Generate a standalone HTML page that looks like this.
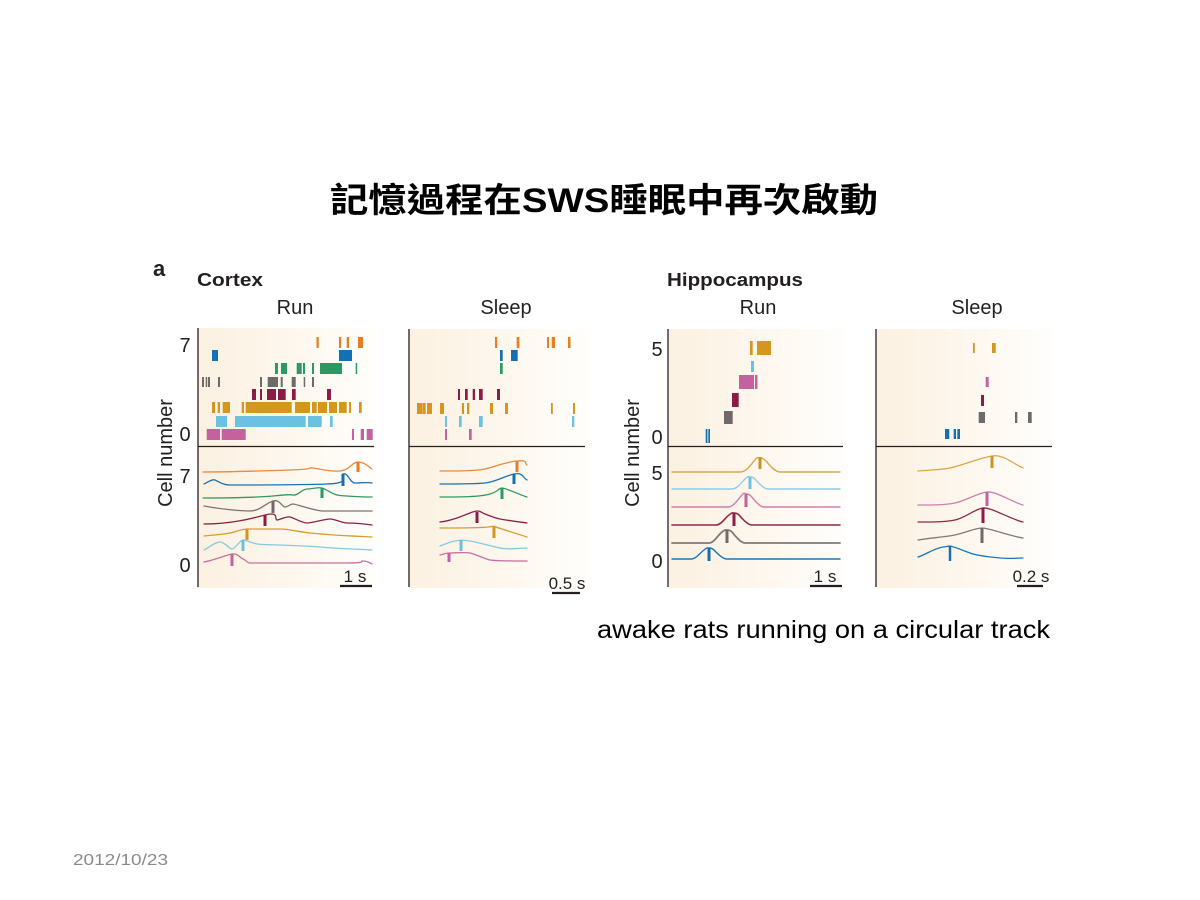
<!DOCTYPE html>
<html><head><meta charset="utf-8"><style>
html,body{margin:0;padding:0;background:#fff;}
svg{display:block;}
</style></head><body>
<svg width="1200" height="900" viewBox="0 0 1200 900" xmlns="http://www.w3.org/2000/svg">
<defs>
<linearGradient id="bg" x1="0" y1="0" x2="1" y2="0">
<stop offset="0" stop-color="#fcf1e1"/>
<stop offset="0.45" stop-color="#fdf6ec"/>
<stop offset="1" stop-color="#fffefc"/>
</linearGradient>
</defs>

<!-- Title -->
<text x="604" y="212" text-anchor="middle" font-family="'Liberation Sans','Noto Sans CJK TC',sans-serif" font-weight="bold" font-size="34" fill="#000" textLength="548" lengthAdjust="spacingAndGlyphs">記憶過程在SWS睡眠中再次啟動</text>

<!-- headers -->
<text x="153" y="276" font-family="'Liberation Sans',sans-serif" font-weight="bold" font-size="22" fill="#231f20">a</text>
<text x="197" y="286" font-family="'Liberation Sans',sans-serif" font-weight="bold" font-size="18" fill="#231f20" textLength="66" lengthAdjust="spacingAndGlyphs">Cortex</text>
<text x="667" y="286" font-family="'Liberation Sans',sans-serif" font-weight="bold" font-size="18" fill="#231f20" textLength="136" lengthAdjust="spacingAndGlyphs">Hippocampus</text>
<g font-family="'Liberation Sans',sans-serif" font-size="20" fill="#231f20" text-anchor="middle">
<text x="295" y="314">Run</text>
<text x="506" y="314">Sleep</text>
<text x="758" y="314">Run</text>
<text x="977" y="314">Sleep</text>
</g>

<!-- panel backgrounds -->
<rect x="198" y="328" width="178" height="260" fill="url(#bg)"/>
<rect x="409" y="329" width="181" height="259" fill="url(#bg)"/>
<rect x="669" y="329" width="176" height="259" fill="url(#bg)"/>
<rect x="877" y="329" width="176" height="259" fill="url(#bg)"/>

<!-- axes -->
<g stroke="#231f20" stroke-width="1.3" fill="none">
<line x1="198" y1="328" x2="198" y2="587"/>
<line x1="198" y1="446.5" x2="374" y2="446.5"/>
<line x1="409" y1="329" x2="409" y2="587"/>
<line x1="409" y1="446.5" x2="585" y2="446.5"/>
<line x1="668" y1="329" x2="668" y2="587"/>
<line x1="668" y1="446.5" x2="843" y2="446.5"/>
<line x1="876" y1="329" x2="876" y2="587"/>
<line x1="876" y1="446.5" x2="1052" y2="446.5"/>
</g>
<!-- scale bars -->
<g stroke="#231f20" stroke-width="2.2">
<line x1="340" y1="586" x2="372" y2="586"/>
<line x1="552" y1="593" x2="580" y2="593"/>
<line x1="810" y1="586" x2="842" y2="586"/>
<line x1="1017" y1="586" x2="1043" y2="586"/>
</g>
<g font-family="'Liberation Sans',sans-serif" font-size="17" fill="#231f20" text-anchor="middle">
<text x="355" y="582">1 s</text>
<text x="567" y="589">0.5 s</text>
<text x="825" y="582">1 s</text>
<text x="1031" y="582">0.2 s</text>
</g>

<!-- y tick labels -->
<g font-family="'Liberation Sans',sans-serif" font-size="20" fill="#231f20" text-anchor="middle">
<text x="185" y="352">7</text>
<text x="185" y="441">0</text>
<text x="185" y="483">7</text>
<text x="185" y="572">0</text>
<text x="657" y="356">5</text>
<text x="657" y="444">0</text>
<text x="657" y="480">5</text>
<text x="657" y="568">0</text>
</g>
<g font-family="'Liberation Sans',sans-serif" font-size="20" fill="#231f20" text-anchor="middle">
<text transform="translate(172,453) rotate(-90)">Cell number</text>
<text transform="translate(639,453) rotate(-90)">Cell number</text>
</g>

<!-- Cortex Run raster -->
<g fill="#e87d22">
<rect x="316.5" y="337" width="2.2" height="11"/><rect x="339" y="337" width="2.2" height="11"/><rect x="346.7" y="337" width="2.3" height="11"/><rect x="358" y="337" width="5" height="11"/>
</g>
<g fill="#1470b5">
<rect x="212" y="350" width="6" height="11"/><rect x="339" y="350" width="13" height="11"/>
</g>
<g fill="#2a9a62">
<rect x="275" y="363" width="3" height="11"/><rect x="281" y="363" width="6" height="11"/><rect x="296.7" y="363" width="5" height="11"/><rect x="303" y="363" width="2" height="11"/><rect x="312" y="363" width="2" height="11"/><rect x="320" y="363" width="22" height="11"/><rect x="355.7" y="363" width="1.5" height="11"/>
</g>
<g fill="#6f6a68">
<rect x="202" y="377" width="2" height="10"/><rect x="205.7" y="377" width="1.5" height="10"/><rect x="208" y="377" width="2" height="10"/><rect x="218" y="377" width="2" height="10"/><rect x="260" y="377" width="2" height="10"/><rect x="267.7" y="377" width="10.3" height="10"/><rect x="280.7" y="377" width="2" height="10"/><rect x="291.7" y="377" width="4" height="10"/><rect x="303.7" y="377" width="1.5" height="10"/><rect x="312" y="377" width="2" height="10"/>
</g>
<g fill="#8b1c47">
<rect x="252" y="389" width="4" height="11"/><rect x="260" y="389" width="2" height="11"/><rect x="267" y="389" width="9" height="11"/><rect x="278" y="389" width="7.7" height="11"/><rect x="292" y="389" width="3.7" height="11"/><rect x="327" y="389" width="4" height="11"/>
</g>
<g fill="#d4961e">
<rect x="212" y="402" width="3" height="11"/><rect x="217.7" y="402" width="2.3" height="11"/><rect x="222.7" y="402" width="7.3" height="11"/><rect x="241.7" y="402" width="2.3" height="11"/><rect x="245.7" y="402" width="46" height="11"/><rect x="295" y="402" width="15" height="11"/><rect x="312" y="402" width="4.7" height="11"/><rect x="318" y="402" width="9" height="11"/><rect x="329" y="402" width="8" height="11"/><rect x="339" y="402" width="7.7" height="11"/><rect x="349" y="402" width="2" height="11"/><rect x="359" y="402" width="2.7" height="11"/>
</g>
<g fill="#6cc0e2">
<rect x="216" y="416" width="11" height="11"/><rect x="235" y="416" width="70.7" height="11"/><rect x="308" y="416" width="13.7" height="11"/><rect x="330" y="416" width="2.7" height="11"/>
</g>
<g fill="#c462a0">
<rect x="206.7" y="429" width="13.3" height="11"/><rect x="221.7" y="429" width="24" height="11"/><rect x="352" y="429" width="2" height="11"/><rect x="360.7" y="429" width="3.3" height="11"/><rect x="366.7" y="429" width="6" height="11"/>
</g>

<!-- Cortex Sleep raster -->
<g fill="#e87d22">
<rect x="495" y="337" width="2.2" height="11"/><rect x="516.7" y="337" width="2.6" height="11"/><rect x="547" y="337" width="2" height="11"/><rect x="551.7" y="337" width="3.3" height="11"/><rect x="568" y="337" width="2.5" height="11"/>
</g>
<g fill="#1470b5">
<rect x="500" y="350" width="2.7" height="11"/><rect x="511" y="350" width="6.7" height="11"/>
</g>
<g fill="#2a9a62"><rect x="500" y="363" width="2.7" height="11"/></g>
<g fill="#8b1c47">
<rect x="458" y="389" width="2" height="11"/><rect x="465" y="389" width="2.7" height="11"/><rect x="472.7" y="389" width="2.3" height="11"/><rect x="479" y="389" width="3.7" height="11"/><rect x="497" y="389" width="3" height="11"/>
</g>
<g fill="#d4961e">
<rect x="417" y="403" width="5.7" height="11"/><rect x="423" y="403" width="2.7" height="11"/><rect x="427" y="403" width="5" height="11"/><rect x="440" y="403" width="4" height="11"/><rect x="462" y="403" width="2" height="11"/><rect x="467" y="403" width="2.3" height="11"/><rect x="490" y="403" width="3" height="11"/><rect x="505" y="403" width="3" height="11"/><rect x="551" y="403" width="1.8" height="11"/><rect x="573" y="403" width="2" height="11"/>
</g>
<g fill="#6cc0e2">
<rect x="445" y="416" width="2" height="11"/><rect x="459" y="416" width="2.7" height="11"/><rect x="479" y="416" width="3.7" height="11"/><rect x="572" y="416" width="2.3" height="11"/>
</g>
<g fill="#c462a0">
<rect x="445" y="429" width="2" height="11"/><rect x="469" y="429" width="2.7" height="11"/>
</g>

<!-- Hippocampus Run raster -->
<g fill="#d4961e"><rect x="750" y="341" width="2.7" height="14"/><rect x="757" y="341" width="14" height="14"/></g>
<g fill="#6cc0e2"><rect x="751" y="361" width="3" height="11"/></g>
<g fill="#c462a0"><rect x="739" y="375" width="15" height="14"/><rect x="755" y="375" width="2.5" height="14"/></g>
<g fill="#8b1c47"><rect x="732" y="393" width="6.7" height="14"/></g>
<g fill="#6f6a68"><rect x="724" y="411" width="8.7" height="13"/></g>
<g fill="#1470b5"><rect x="705.7" y="429" width="1.7" height="14"/><rect x="708.3" y="429" width="1.7" height="14"/></g>

<!-- Hippocampus Sleep raster -->
<g fill="#d4961e"><rect x="973" y="343" width="1.8" height="10"/><rect x="992" y="343" width="3.7" height="10"/></g>
<g fill="#c462a0"><rect x="985.7" y="377" width="3" height="10"/></g>
<g fill="#8b1c47"><rect x="981" y="395" width="3" height="11"/></g>
<g fill="#6f6a68"><rect x="978.7" y="412" width="6.3" height="11"/><rect x="1015" y="412" width="2.3" height="11"/><rect x="1028" y="412" width="3.7" height="11"/></g>
<g fill="#1470b5"><rect x="945" y="429" width="4.3" height="10"/><rect x="953.7" y="429" width="2.3" height="10"/><rect x="957.3" y="429" width="2.7" height="10"/></g>

<!-- Cortex Run traces -->
<g fill="none" stroke-width="1.3" stroke-linejoin="round" stroke-linecap="round">
<path stroke="#ec8a35" d="M203,472 C230,472 260,471 290,470 S305,467 313,468 S330,472 340,471 S352,462 358,462 S368,466 372,469"/>
<path stroke="#1b72b4" d="M204,484 C208,482 212,479 215,480 S222,485 230,485 S300,485 327,484 S338,476 343,474 S350,483 355,483 S366,482 372,483"/>
<path stroke="#2f9a62" d="M203,498 C230,498 260,497 273,496 S288,494 293,495 S302,489 307,489 S318,487 322,488 S332,494 337,495 S360,497 372,497"/>
<path stroke="#7b7472" d="M204,506 C220,509 240,511 250,511 S266,503 273,501 S282,507 285,507 S290,504 293,504 S315,511 323,511 S360,511 372,511"/>
<path stroke="#8b2148" d="M204,524 C230,524 250,519 265,515 S274,520 277,520 S286,516 290,517 S302,523 307,523 S325,519 330,519 S342,523 347,523 S365,524 372,525"/>
<path stroke="#d89c2a" d="M204,536 C215,535 225,534 230,533 S242,529 247,529 S272,529 280,529 S300,532 310,533 S350,536 372,537"/>
<path stroke="#86c8e2" d="M204,550 C210,547 215,542 220,542 S229,549 232,549 S240,540 243,540 S252,543 257,544 S300,545 320,547 S360,549 372,550"/>
<path stroke="#c7709f" d="M204,562 C215,560 226,555 232,554 S240,558 243,559 S247,563 250,563 S320,563 345,563 S358,561 363,561 S370,563 372,564"/>
</g>
<g stroke-width="3">
<line stroke="#e87d22" x1="358" y1="462" x2="358" y2="472"/>
<line stroke="#1470b5" x1="343" y1="474" x2="343" y2="486"/>
<line stroke="#2a9a62" x1="322" y1="488" x2="322" y2="498"/>
<line stroke="#6f6a68" x1="273" y1="501" x2="273" y2="513"/>
<line stroke="#8b1c47" x1="265" y1="515" x2="265" y2="526"/>
<line stroke="#d4961e" x1="247" y1="529" x2="247" y2="540"/>
<line stroke="#6cc0e2" x1="243" y1="540" x2="243" y2="551"/>
<line stroke="#c462a0" x1="232" y1="554" x2="232" y2="566"/>
</g>

<!-- Cortex Sleep traces -->
<g fill="none" stroke-width="1.3" stroke-linejoin="round" stroke-linecap="round">
<path stroke="#ec8a35" d="M440,471 C460,471 475,471 485,469 S505,462 517,461 S524,463 527,465"/>
<path stroke="#1b72b4" d="M440,484 C460,484 475,484 485,483 S505,476 514,474 S523,478 527,480"/>
<path stroke="#2f9a62" d="M440,497 C460,497 480,497 490,494 S498,488 502,488 S520,495 527,497"/>
<path stroke="#8b2148" d="M440,522 C450,521 460,517 470,513 S480,512 485,514 S495,518 500,519 S520,522 527,523"/>
<path stroke="#d89c2a" d="M440,528 C460,528 480,528 488,527 S494,526 496,527 S515,533 527,537"/>
<path stroke="#86c8e2" d="M440,546 C445,544 450,542 455,541 S463,540 470,541 S490,546 500,548 S520,548 527,548"/>
<path stroke="#c7709f" d="M440,555 C444,554 446,553 450,553 S465,552 470,553 S485,559 490,560 S520,561 527,561"/>
</g>
<g stroke-width="3">
<line stroke="#e87d22" x1="517" y1="461" x2="517" y2="472"/>
<line stroke="#1470b5" x1="514" y1="474" x2="514" y2="484"/>
<line stroke="#2a9a62" x1="502" y1="488" x2="502" y2="499"/>
<line stroke="#8b1c47" x1="477" y1="512" x2="477" y2="523"/>
<line stroke="#d4961e" x1="494" y1="527" x2="494" y2="538"/>
<line stroke="#6cc0e2" x1="461" y1="540" x2="461" y2="551"/>
<line stroke="#c462a0" x1="449" y1="553" x2="449" y2="562"/>
</g>

<!-- Hippocampus Run traces -->
<g fill="none" stroke-width="1.4" stroke-linejoin="round" stroke-linecap="round">
<path stroke="#d8a84a" d="M672,472 L740,472 C746,472 750,466 754,461 S758,458 760,458 S764,459 766,461 S774,472 780,472 L840,472"/>
<path stroke="#8dcde6" d="M672,489 L732,489 C737,489 741,483 745,479 S748,477 750,477 S754,478 755,479 S763,489 768,489 L840,489"/>
<path stroke="#cf7eaa" d="M672,507 L728,507 C733,507 737,501 741,496 S744,494 746,494 S750,495 751,496 S759,507 764,507 L840,507"/>
<path stroke="#8b2a4a" stroke-width="1.6" d="M672,525 L716,525 C721,525 725,518 729,515 S732,513 734,513 S738,514 739,515 S747,525 752,525 L840,525"/>
<path stroke="#7f7977" stroke-width="1.8" d="M672,543 L709,543 C714,543 718,535 722,532 S725,530 727,530 S731,531 732,532 S740,543 745,543 L840,543"/>
<path stroke="#1b76b8" d="M672,559 L691,559 C696,559 700,553 704,550 S707,548 709,548 S713,549 714,550 S722,559 727,559 L840,559"/>
</g>
<g stroke-width="3">
<line stroke="#c99327" x1="760" y1="457" x2="760" y2="469"/>
<line stroke="#6cc0e2" x1="750" y1="477" x2="750" y2="489"/>
<line stroke="#c462a0" x1="746" y1="494" x2="746" y2="507"/>
<line stroke="#8b1c47" x1="734" y1="513" x2="734" y2="526"/>
<line stroke="#6f6a68" x1="727" y1="530" x2="727" y2="543"/>
<line stroke="#1470b5" x1="709" y1="548" x2="709" y2="561"/>
</g>

<!-- Hippocampus Sleep traces -->
<g fill="none" stroke-width="1.3" stroke-linejoin="round" stroke-linecap="round">
<path stroke="#d8a84a" d="M918,471 C930,470 940,470 950,468 S980,458 992,456 S1015,465 1023,468"/>
<path stroke="#cf7eaa" d="M918,505 C935,505 945,505 955,503 S978,493 987,492 S1012,502 1023,505"/>
<path stroke="#8b2a4a" d="M918,522 C935,522 945,522 955,520 S975,509 983,508 S1010,519 1023,522"/>
<path stroke="#7f7977" d="M918,540 C930,538 945,537 955,535 S975,528 982,528 S1010,536 1023,538"/>
<path stroke="#1b76b8" d="M918,557 C925,555 935,548 943,547 S948,546 950,546 S962,550 970,553 S990,557 1000,558 S1015,558 1023,558"/>
</g>
<g stroke-width="3">
<line stroke="#c99327" x1="992" y1="456" x2="992" y2="468"/>
<line stroke="#c462a0" x1="987" y1="492" x2="987" y2="506"/>
<line stroke="#8b1c47" x1="983" y1="508" x2="983" y2="523"/>
<line stroke="#6f6a68" x1="982" y1="528" x2="982" y2="543"/>
<line stroke="#1470b5" stroke-width="2.5" x1="950" y1="546" x2="950" y2="561"/>
</g>

<!-- caption -->
<text x="597" y="638" font-family="'Liberation Sans',sans-serif" font-size="25" fill="#000" textLength="453" lengthAdjust="spacingAndGlyphs">awake rats running on a circular track</text>

<!-- date -->
<text x="73" y="865" font-family="'Liberation Sans',sans-serif" font-size="16" fill="#8a8a8a" textLength="95" lengthAdjust="spacingAndGlyphs">2012/10/23</text>
</svg>
</body></html>
